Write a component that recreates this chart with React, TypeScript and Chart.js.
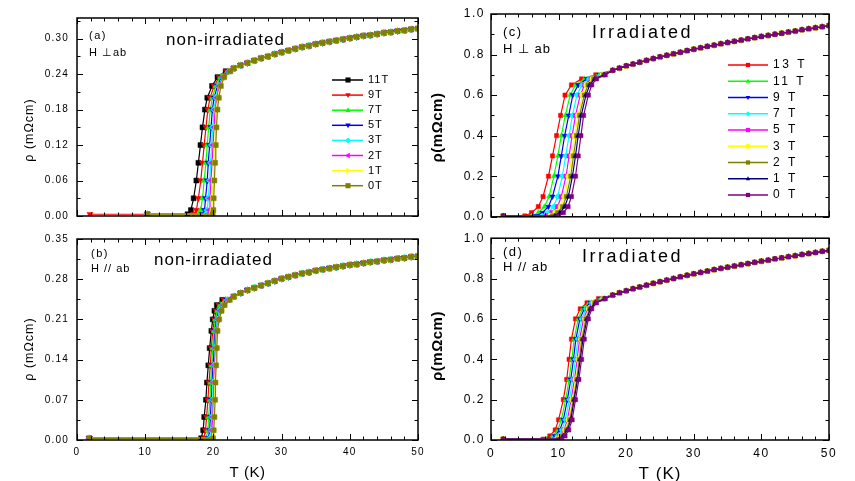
import React, { useEffect, useRef } from "react";
import { Chart, registerables } from "chart.js";
Chart.register(...registerables);

const FONT = "'Liberation Sans', Arial, sans-serif";

// ---------------- shared axis ticks ----------------
const xTicks = [0, 10, 20, 30, 40, 50];
const yTicksA = [0, 0.06, 0.12, 0.18, 0.24, 0.3];
const yTicksB = [0, 0.07, 0.14, 0.21, 0.28, 0.35];
const yTicksCD = [0, 0.2, 0.4, 0.6, 0.8, 1.0];

// ---------------- Panel (a): non-irradiated, H ⊥ ab ----------------
const fieldsA = ["11T", "9T", "7T", "5T", "3T", "2T", "1T", "0T"];
const rhoLevelsA = [0.003, 0.01, 0.03, 0.06, 0.09, 0.12, 0.15, 0.18, 0.2, 0.22, 0.235, 0.245];
const tA11 = [16.2, 16.7, 17.1, 17.5, 17.8, 18.1, 18.4, 18.75, 19.1, 19.8, 20.6, 21.8];
const tA9 = [17.1, 17.5, 17.8, 18.15, 18.4, 18.65, 18.9, 19.2, 19.5, 20.1, 20.85, 21.95];
const tA7 = [17.85, 18.15, 18.4, 18.65, 18.9, 19.1, 19.3, 19.55, 19.85, 20.35, 21.05, 22.1];
const tA5 = [18.4, 18.7, 18.85, 19.1, 19.25, 19.45, 19.65, 19.85, 20.1, 20.6, 21.2, 22.2];
const tA3 = [18.9, 19.1, 19.25, 19.45, 19.6, 19.75, 19.9, 20.1, 20.35, 20.75, 21.35, 22.3];
const tA2 = [19.25, 19.4, 19.5, 19.65, 19.8, 19.95, 20.1, 20.25, 20.5, 20.85, 21.4, 22.35];
const tA1 = [19.65, 19.75, 19.85, 19.95, 20.1, 20.2, 20.3, 20.45, 20.7, 21.0, 21.55, 22.45];
const tA0 = [19.9, 20.0, 20.05, 20.15, 20.25, 20.35, 20.45, 20.6, 20.8, 21.1, 21.6, 22.5];
const baseStartA = [10.3, 1.9, 10.3, 10.3, 10.3, 10.3, 10.3, 10.3];
const tailTA = [23, 24, 25, 26, 27, 28, 29, 30, 31, 32, 33, 34, 35, 36, 37, 38, 39, 40, 41, 42, 43, 44, 45, 46, 47, 48, 49, 50];
const tailRhoA = [0.25, 0.255, 0.259, 0.263, 0.267, 0.27, 0.274, 0.277, 0.28, 0.283, 0.286, 0.288, 0.291, 0.293, 0.295, 0.297, 0.299, 0.301, 0.303, 0.305, 0.306, 0.308, 0.31, 0.311, 0.313, 0.314, 0.316, 0.317];

// ---------------- Panel (b): non-irradiated, H // ab ----------------
const fieldsB = ["11T", "9T", "7T", "5T", "3T", "2T", "1T", "0T"];
const rhoLevelsB = [0.003, 0.017, 0.04, 0.07, 0.1, 0.13, 0.16, 0.19, 0.21, 0.225, 0.235, 0.244];
const tB11 = [18.2, 18.5, 18.65, 18.9, 19.05, 19.25, 19.45, 19.7, 19.9, 20.15, 20.5, 21.3];
const tB9 = [18.6, 18.85, 19.0, 19.2, 19.35, 19.55, 19.7, 19.9, 20.15, 20.4, 20.8, 21.55];
const tB7 = [18.95, 19.2, 19.3, 19.5, 19.6, 19.75, 19.9, 20.1, 20.3, 20.6, 21.0, 21.8];
const tB5 = [19.25, 19.45, 19.55, 19.7, 19.8, 19.95, 20.1, 20.25, 20.45, 20.8, 21.2, 21.95];
const tB3 = [19.5, 19.65, 19.75, 19.9, 19.95, 20.1, 20.2, 20.35, 20.6, 20.9, 21.35, 22.1];
const tB2 = [19.65, 19.75, 19.9, 20.0, 20.05, 20.2, 20.3, 20.45, 20.7, 21.0, 21.45, 22.2];
const tB1 = [19.85, 19.95, 20.05, 20.15, 20.2, 20.3, 20.45, 20.55, 20.8, 21.15, 21.55, 22.3];
const tB0 = [19.95, 20.05, 20.15, 20.25, 20.3, 20.4, 20.5, 20.6, 20.85, 21.2, 21.65, 22.4];
const baseStartB = [1.8, 1.8, 1.8, 1.8, 1.8, 1.8, 1.8, 1.8];
const tailTB = [23, 24, 25, 26, 27, 28, 29, 30, 31, 32, 33, 34, 35, 36, 37, 38, 39, 40, 41, 42, 43, 44, 45, 46, 47, 48, 49, 50];
const tailRhoB = [0.25, 0.256, 0.261, 0.265, 0.269, 0.273, 0.277, 0.281, 0.284, 0.287, 0.29, 0.292, 0.295, 0.297, 0.299, 0.301, 0.303, 0.305, 0.306, 0.308, 0.31, 0.311, 0.313, 0.314, 0.316, 0.317, 0.319, 0.32];

// ---------------- Panel (c): irradiated, H ⊥ ab ----------------
const fieldsC = ["13 T", "11 T", "9 T", "7 T", "5 T", "3 T", "2 T", "1 T", "0 T"];
const rhoLevelsC = [0.004, 0.02, 0.05, 0.1, 0.2, 0.3, 0.4, 0.5, 0.6, 0.65, 0.68, 0.7];
const tC13 = [5.0, 6.0, 7.0, 7.7, 8.5, 9.1, 9.7, 10.3, 10.95, 11.9, 13.4, 15.5];
const tC11 = [6.0, 7.0, 7.9, 8.6, 9.3, 9.9, 10.4, 11.0, 11.7, 12.5, 13.85, 15.8];
const tC9 = [6.7, 7.6, 8.5, 9.1, 9.9, 10.4, 10.9, 11.5, 12.1, 12.9, 14.2, 16.0];
const tC7 = [7.55, 8.4, 9.25, 9.85, 10.55, 11.05, 11.55, 12.05, 12.7, 13.45, 14.5, 16.2];
const tC5 = [8.2, 9.0, 9.85, 10.4, 11.1, 11.55, 12.0, 12.5, 13.2, 13.85, 14.8, 16.4];
const tC3 = [8.8, 9.55, 10.35, 10.9, 11.5, 12.0, 12.4, 12.9, 13.55, 14.15, 15.05, 16.55];
const tC2 = [9.1, 9.85, 10.6, 11.15, 11.8, 12.2, 12.65, 13.1, 13.8, 14.35, 15.2, 16.65];
const tC1 = [9.45, 10.2, 10.9, 11.45, 12.05, 12.5, 12.9, 13.35, 14.05, 14.6, 15.35, 16.75];
const tC0 = [10.0, 10.7, 11.4, 11.9, 12.5, 12.9, 13.3, 13.7, 14.4, 14.9, 15.6, 16.9];
const baseStartC = [1.8, 1.8, 1.8, 1.8, 1.8, 1.8, 1.8, 1.8, 1.8];
const tailTC = [18, 19, 20, 21, 22, 23, 24, 25, 26, 27, 28, 29, 30, 31, 32, 33, 34, 35, 36, 37, 38, 39, 40, 41, 42, 43, 44, 45, 46, 47, 48, 49, 50];
const tailRhoC = [0.722, 0.733, 0.744, 0.753, 0.762, 0.771, 0.78, 0.788, 0.796, 0.803, 0.811, 0.819, 0.826, 0.833, 0.84, 0.846, 0.853, 0.859, 0.865, 0.871, 0.877, 0.883, 0.889, 0.894, 0.9, 0.905, 0.911, 0.916, 0.922, 0.927, 0.932, 0.937, 0.943];

// ---------------- Panel (d): irradiated, H // ab ----------------
const fieldsD = ["13 T", "11 T", "9 T", "7 T", "5 T", "3 T", "2 T", "1 T", "0 T"];
const rhoLevelsD = [0.004, 0.02, 0.05, 0.1, 0.2, 0.3, 0.4, 0.5, 0.6, 0.65, 0.68, 0.7];
const tD13 = [7.7, 8.7, 9.5, 10.0, 10.7, 11.2, 11.55, 11.9, 12.5, 13.2, 14.2, 15.9];
const tD11 = [8.25, 9.15, 9.9, 10.4, 11.05, 11.55, 11.95, 12.3, 12.9, 13.55, 14.5, 16.1];
const tD9 = [8.65, 9.45, 10.2, 10.7, 11.3, 11.8, 12.2, 12.55, 13.15, 13.8, 14.7, 16.25];
const tD7 = [9.1, 9.85, 10.5, 11.0, 11.6, 12.1, 12.5, 12.85, 13.45, 14.05, 14.9, 16.4];
const tD5 = [9.45, 10.15, 10.8, 11.3, 11.85, 12.35, 12.75, 13.1, 13.7, 14.3, 15.1, 16.55];
const tD3 = [9.8, 10.4, 11.0, 11.5, 12.05, 12.55, 12.95, 13.35, 13.95, 14.5, 15.25, 16.65];
const tD2 = [9.95, 10.55, 11.15, 11.65, 12.2, 12.7, 13.05, 13.45, 14.05, 14.6, 15.35, 16.7];
const tD1 = [10.15, 10.7, 11.3, 11.8, 12.3, 12.8, 13.2, 13.6, 14.2, 14.7, 15.45, 16.8];
const tD0 = [10.45, 10.95, 11.5, 12.0, 12.5, 13.0, 13.4, 13.8, 14.4, 14.9, 15.6, 16.9];
const baseStartD = [1.8, 1.8, 1.8, 1.8, 1.8, 1.8, 1.8, 1.8, 1.8];
const tailTD = [18, 19, 20, 21, 22, 23, 24, 25, 26, 27, 28, 29, 30, 31, 32, 33, 34, 35, 36, 37, 38, 39, 40, 41, 42, 43, 44, 45, 46, 47, 48, 49, 50];
const tailRhoD = [0.718, 0.729, 0.739, 0.749, 0.758, 0.767, 0.776, 0.784, 0.792, 0.8, 0.808, 0.816, 0.823, 0.83, 0.837, 0.844, 0.85, 0.856, 0.862, 0.868, 0.874, 0.88, 0.886, 0.891, 0.897, 0.902, 0.908, 0.913, 0.919, 0.924, 0.929, 0.935, 0.94];

// ---------------- styles ----------------
const colorsAB = ["#000000", "#ff0000", "#00ff00", "#0000ff", "#00ffff", "#ff00ff", "#ffff00", "#808000"];
const stylesAB = ["rect", "triangle", "triangle", "triangle", "rectRot", "triangle", "triangle", "rect"];
const rotAB = [0, 180, 0, 180, 0, 270, 90, 0];
const colorsCD = ["#ff0000", "#00ff00", "#0000ff", "#00ffff", "#ff00ff", "#ffff00", "#808000", "#000080", "#800080"];
const stylesCD = ["rect", "triangle", "triangle", "rectRot", "rect", "circle", "rect", "triangle", "rect"];
const rotCD = [0, 0, 180, 0, 0, 0, 0, 0, 0];

type Txt = { s: string; x: number; y: number; size: number; ls: number; weight?: string; align?: CanvasTextAlign; rot?: boolean };
type Panel = {
  left: number; top: number; width: number; height: number;
  padTop: number; padRight: number; yWidth: number; xHeight: number;
  yMax: number; yTicks: number[]; yMinorStep: number; yDigits: number; showX: boolean;
  tickSize: number; tickLs: number; tickWeight: string; yPad: number; xPad: number;
  fields: string[]; levels: number[]; ts: number[][]; bases: number[]; tailT: number[]; tailRho: number[];
  colors: string[]; styles: string[]; rots: number[]; radius: number;
  legend: { x1: number; x2: number; xm: number; xt: number; y0: number; dy: number; size: number; ls: number; mr: number };
  texts: Txt[];
};

const panels: Panel[] = [
  {
    left: 0, top: 0, width: 430, height: 230, padTop: 18, padRight: 12, yWidth: 77, xHeight: 6,
    yMax: 0.335, yTicks: yTicksA, yMinorStep: 0.03, yDigits: 2, showX: false,
    tickSize: 10, tickLs: 1.2, tickWeight: "normal", yPad: 8, xPad: 6,
    fields: fieldsA, levels: rhoLevelsA, ts: [tA11, tA9, tA7, tA5, tA3, tA2, tA1, tA0], bases: baseStartA,
    tailT: tailTA, tailRho: tailRhoA, colors: colorsAB, styles: stylesAB, rots: rotAB, radius: 3.5,
    legend: { x1: 332, x2: 363, xm: 348, xt: 368, y0: 80, dy: 15.1, size: 11, ls: 1, mr: 3 },
    texts: [
      { s: "(a)", x: 89, y: 36, size: 11, ls: 1.5 },
      { s: "H ⊥ab", x: 89, y: 53, size: 11, ls: 1 },
      { s: "non-irradiated", x: 166, y: 40, size: 17, ls: 1 },
      { s: "ρ (mΩcm)", x: 30, y: 130, size: 12.5, ls: 1, align: "center", rot: true },
    ],
  },
  {
    left: 0, top: 225, width: 430, height: 256, padTop: 10, padRight: 12, yWidth: 77, xHeight: 41,
    yMax: 0.35, yTicks: yTicksB, yMinorStep: 0.035, yDigits: 2, showX: true,
    tickSize: 10, tickLs: 1.2, tickWeight: "normal", yPad: 8, xPad: 6,
    fields: fieldsB, levels: rhoLevelsB, ts: [tB11, tB9, tB7, tB5, tB3, tB2, tB1, tB0], bases: baseStartB,
    tailT: tailTB, tailRho: tailRhoB, colors: colorsAB, styles: stylesAB, rots: rotAB, radius: 3.5,
    legend: { x1: 0, x2: 0, xm: 0, xt: 0, y0: 0, dy: 0, size: 0, ls: 0, mr: 0 },
    texts: [
      { s: "(b)", x: 91, y: 29.3, size: 11, ls: 1.5 },
      { s: "H // ab", x: 91, y: 43.7, size: 11, ls: 1 },
      { s: "non-irradiated", x: 154, y: 35, size: 17, ls: 1 },
      { s: "ρ (mΩcm)", x: 30, y: 124, size: 12.5, ls: 1, align: "center", rot: true },
      { s: "T (K)", x: 247.5, y: 248.3, size: 15, ls: 0.5, align: "center" },
    ],
  },
  {
    left: 425, top: 0, width: 430, height: 230, padTop: 14, padRight: 26, yWidth: 66, xHeight: 9,
    yMax: 1.0, yTicks: yTicksCD, yMinorStep: 0.1, yDigits: 1, showX: false,
    tickSize: 12, tickLs: 1.5, tickWeight: "normal", yPad: 6, xPad: 6,
    fields: fieldsC, levels: rhoLevelsC, ts: [tC13, tC11, tC9, tC7, tC5, tC3, tC2, tC1, tC0], bases: baseStartC,
    tailT: tailTC, tailRho: tailRhoC, colors: colorsCD, styles: stylesCD, rots: rotCD, radius: 3,
    legend: { x1: 303, x2: 343, xm: 323, xt: 348, y0: 65, dy: 16.25, size: 12, ls: 2.5, mr: 2.5 },
    texts: [
      { s: "(c)", x: 78, y: 32.7, size: 13, ls: 1.5 },
      { s: "H ⊥ ab", x: 78, y: 49.3, size: 13, ls: 1 },
      { s: "Irradiated", x: 167, y: 33.3, size: 18, ls: 2.5 },
      { s: "ρ(mΩcm)", x: 13, y: 127.5, size: 15, ls: 0.5, weight: "bold", align: "center", rot: true },
    ],
  },
  {
    left: 425, top: 225, width: 430, height: 256, padTop: 7, padRight: 26, yWidth: 66, xHeight: 41,
    yMax: 1.0, yTicks: yTicksCD, yMinorStep: 0.1, yDigits: 1, showX: true,
    tickSize: 12, tickLs: 1.5, tickWeight: "normal", yPad: 6, xPad: 6,
    fields: fieldsD, levels: rhoLevelsD, ts: [tD13, tD11, tD9, tD7, tD5, tD3, tD2, tD1, tD0], bases: baseStartD,
    tailT: tailTD, tailRho: tailRhoD, colors: colorsCD, styles: stylesCD, rots: rotCD, radius: 3,
    legend: { x1: 0, x2: 0, xm: 0, xt: 0, y0: 0, dy: 0, size: 0, ls: 0, mr: 0 },
    texts: [
      { s: "(d)", x: 78, y: 27.3, size: 13, ls: 1.5 },
      { s: "H // ab", x: 78, y: 42.7, size: 13, ls: 1 },
      { s: "Irradiated", x: 157, y: 31.7, size: 18, ls: 2.5 },
      { s: "ρ(mΩcm)", x: 13, y: 121, size: 15, ls: 0.5, weight: "bold", align: "center", rot: true },
      { s: "T (K)", x: 235, y: 249, size: 17, ls: 1, align: "center" },
    ],
  },
];

function drawMarker(ctx: CanvasRenderingContext2D, style: string, rot: number, x: number, y: number, r: number, color: string) {
  ctx.save();
  ctx.translate(x, y);
  ctx.rotate((rot * Math.PI) / 180);
  ctx.fillStyle = color;
  ctx.beginPath();
  if (style === "rect") {
    const s = r * Math.SQRT1_2 * 1.2;
    ctx.rect(-s, -s, 2 * s, 2 * s);
  } else if (style === "rectRot") {
    ctx.moveTo(0, -r); ctx.lineTo(r, 0); ctx.lineTo(0, r); ctx.lineTo(-r, 0); ctx.closePath();
  } else if (style === "triangle") {
    ctx.moveTo(0, -r); ctx.lineTo(r * 0.9, r * 0.6); ctx.lineTo(-r * 0.9, r * 0.6); ctx.closePath();
  } else {
    ctx.arc(0, 0, r, 0, Math.PI * 2);
  }
  ctx.fill();
  ctx.restore();
}

function drawText(ctx: CanvasRenderingContext2D, t: Txt) {
  ctx.save();
  (ctx as any).letterSpacing = `${t.ls}px`;
  ctx.font = `${t.weight || "normal"} ${t.size}px ${FONT}`;
  ctx.fillStyle = "#000";
  ctx.textBaseline = "middle";
  ctx.textAlign = t.align || "left";
  if (t.rot) {
    ctx.translate(t.x, t.y);
    ctx.rotate(-Math.PI / 2);
    ctx.fillText(t.s, 0, 0);
  } else {
    ctx.fillText(t.s, t.x, t.y);
  }
  ctx.restore();
}

function makeConfig(p: Panel): any {
  const n = p.fields.length;
  const datasets = p.fields.map((label, i) => {
    const pts: { x: number; y: number }[] = [{ x: p.bases[i], y: p.levels[0] }];
    p.ts[i].forEach((t, k) => pts.push({ x: t, y: p.levels[k] }));
    p.tailT.forEach((t, k) => pts.push({ x: t, y: p.tailRho[k] }));
    return {
      label,
      data: pts,
      showLine: true,
      borderColor: p.colors[i],
      backgroundColor: p.colors[i],
      borderWidth: 1.2,
      pointRadius: p.radius,
      pointStyle: p.styles[i],
      pointRotation: p.rots[i],
      pointBorderWidth: 0.5,
      pointBorderColor: p.colors[i],
      order: n - 1 - i,
    };
  });

  const deco = {
    id: "deco",
    beforeDraw(chart: any) {
      (chart.ctx as any).letterSpacing = `${p.tickLs}px`;
    },
    afterDraw(chart: any) {
      const ctx: CanvasRenderingContext2D = chart.ctx;
      const ca = chart.chartArea;
      const xs = chart.scales.x;
      const ys = chart.scales.y;
      ctx.save();
      (ctx as any).letterSpacing = "0px";
      ctx.strokeStyle = "#000";
      ctx.lineWidth = 1.5;
      ctx.strokeRect(ca.left, ca.top, ca.right - ca.left, ca.bottom - ca.top);
      ctx.lineWidth = 1;
      ctx.beginPath();
      // x ticks: minor every 2 K, major every 10 K
      for (let v = 0; v <= 50.001; v += 2) {
        const major = Math.abs(v / 10 - Math.round(v / 10)) < 1e-6;
        const L = major ? 6 : 3.5;
        const px = Math.round(xs.getPixelForValue(v)) + 0.5;
        ctx.moveTo(px, ca.bottom); ctx.lineTo(px, ca.bottom - L);
        ctx.moveTo(px, ca.top); ctx.lineTo(px, ca.top + L);
      }
      // y ticks
      const steps = Math.round(p.yMax / p.yMinorStep + 0.001);
      for (let k = 0; k <= steps; k++) {
        const v = k * p.yMinorStep;
        if (v > p.yMax + 1e-9) break;
        const major = k % 2 === 0;
        const L = major ? 6 : 3.5;
        const py = Math.round(ys.getPixelForValue(v)) + 0.5;
        ctx.moveTo(ca.left, py); ctx.lineTo(ca.left + L, py);
        ctx.moveTo(ca.right, py); ctx.lineTo(ca.right - L, py);
      }
      ctx.stroke();

      // legend
      if (p.legend.size > 0) {
        const lg = p.legend;
        p.fields.forEach((f, i) => {
          const y = lg.y0 + i * lg.dy;
          ctx.strokeStyle = p.colors[i];
          ctx.lineWidth = 1.5;
          ctx.beginPath();
          ctx.moveTo(lg.x1, y); ctx.lineTo(lg.x2, y);
          ctx.stroke();
          drawMarker(ctx, p.styles[i], p.rots[i], lg.xm, y, lg.mr, p.colors[i]);
          drawText(ctx, { s: f, x: lg.xt, y, size: lg.size, ls: lg.ls });
        });
      }
      p.texts.forEach((t) => drawText(ctx, t));
      ctx.restore();
    },
  };

  return {
    type: "scatter",
    data: { datasets },
    plugins: [deco],
    options: {
      responsive: false,
      animation: false,
      devicePixelRatio: 1,
      events: [],
      layout: { padding: { top: p.padTop, right: p.padRight, left: 0, bottom: 0 } },
      plugins: { legend: { display: false }, tooltip: { enabled: false }, title: { display: false } },
      scales: {
        x: {
          type: "linear",
          min: 0,
          max: 50,
          grid: { display: false, drawTicks: false, tickLength: 0 },
          border: { display: false },
          afterBuildTicks: (s: any) => { s.ticks = xTicks.map((v) => ({ value: v })); },
          afterFit: (s: any) => { s.height = p.xHeight; },
          ticks: {
            display: p.showX,
            padding: p.xPad,
            color: "#000",
            maxRotation: 0,
            autoSkip: false,
            font: { family: FONT, size: p.tickSize, weight: p.tickWeight },
            callback: (v: any) => String(v),
          },
        },
        y: {
          type: "linear",
          min: 0,
          max: p.yMax,
          grid: { display: false, drawTicks: false, tickLength: 0 },
          border: { display: false },
          afterBuildTicks: (s: any) => { s.ticks = p.yTicks.map((v) => ({ value: v })); },
          afterFit: (s: any) => { s.width = p.yWidth; },
          ticks: {
            padding: p.yPad,
            color: "#000",
            autoSkip: false,
            font: { family: FONT, size: p.tickSize, weight: p.tickWeight },
            callback: (v: any) => Number(v).toFixed(p.yDigits),
          },
        },
      },
    },
  };
}

function PanelChart({ p }: { p: Panel }) {
  const ref = useRef<HTMLCanvasElement>(null);
  useEffect(() => {
    if (!ref.current) return;
    const chart = new Chart(ref.current, makeConfig(p));
    return () => chart.destroy();
  }, [p]);
  return (
    <canvas
      ref={ref}
      width={p.width}
      height={p.height}
      style={{ position: "absolute", left: p.left, top: p.top, width: p.width, height: p.height }}
    />
  );
}

export default function App() {
  return (
    <div style={{ position: "absolute", left: 0, top: 0, width: 855, height: 481, background: "#fff", overflow: "hidden" }}>
      {panels.map((p, i) => (
        <PanelChart key={i} p={p} />
      ))}
    </div>
  );
}
